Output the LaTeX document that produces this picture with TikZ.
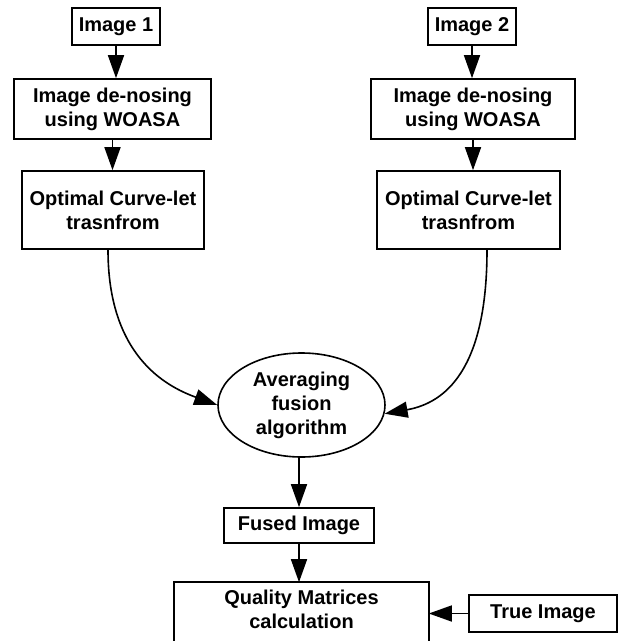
\documentclass[tikz,border=0pt]{standalone}
\usepackage{fontspec}
\setmainfont{Liberation Sans}
\usetikzlibrary{arrows.meta,shapes.geometric}
\begin{document}
\begin{tikzpicture}[x=1bp,y=-1bp,
  every node/.style={font=\bfseries\fontsize{20bp}{24bp}\selectfont, align=center, inner sep=0pt, line width=1.6bp},
  box/.style={draw, rectangle},
  conn/.style={line width=1.6bp, -{Triangle[length=23bp,width=16bp]}},
  ]
\useasboundingbox (0,0) rectangle (622,641);
\clip (0,0) rectangle (622,641);
\node[box, minimum width=88bp, minimum height=37bp] (img1) at (116,26.5) {Image 1};
\node[box, minimum width=197bp, minimum height=60bp] (den1) at (112.5,109) {Image de-nosing\\using WOASA};
\node[box, minimum width=182bp, minimum height=78bp] (opt1) at (113,210) {Optimal Curve-let\\trasnfrom};
\node[box, minimum width=88bp, minimum height=37bp] (img2) at (472,26.5) {Image 2};
\node[box, minimum width=204bp, minimum height=60bp] (den2) at (473,109) {Image de-nosing\\using WOASA};
\node[box, minimum width=183bp, minimum height=78bp] (opt2) at (468.5,210) {Optimal Curve-let\\trasnfrom};
\node[draw, ellipse, inner sep=0pt, minimum width=167bp, minimum height=104bp] (avg) at (301.5,405) {Averaging\\fusion\\algorithm};
\node[box, minimum width=150bp, minimum height=35bp] (fused) at (299,525.5) {Fused Image};
\node[minimum width=253bp, minimum height=52bp] (qual) at (301.5,609) {Quality Matrices\\calculation};
\node[box, minimum width=148bp, minimum height=37bp] (truei) at (543,613.5) {True Image};
\draw[line width=1.6bp] ([yshift=-20bp]qual.south west) -- (qual.north west) -- (qual.north east) -- ([yshift=-20bp]qual.south east);
\draw[conn] (img1.south) -- (img1.south |- den1.north);
\draw[conn] (den1.south) -- (den1.south |- opt1.north);
\draw[conn] (img2.south) -- (img2.south |- den2.north);
\draw[conn] (den2.south) -- (den2.south |- opt2.north);
\draw[conn] ([xshift=-5bp]opt1.south) .. controls (108,355) and (165,386) .. (avg.west);
\draw[conn] ([xshift=18.5bp]opt2.south) .. controls (487,370) and (445,403) .. (avg.-6);
\draw[conn] (fused.north |- avg.south) -- (fused.north);
\draw[conn] (fused.south) -- (fused.south |- qual.north);
\draw[conn] (truei.west) -- (truei.west -| qual.east);
\end{tikzpicture}
\end{document}
